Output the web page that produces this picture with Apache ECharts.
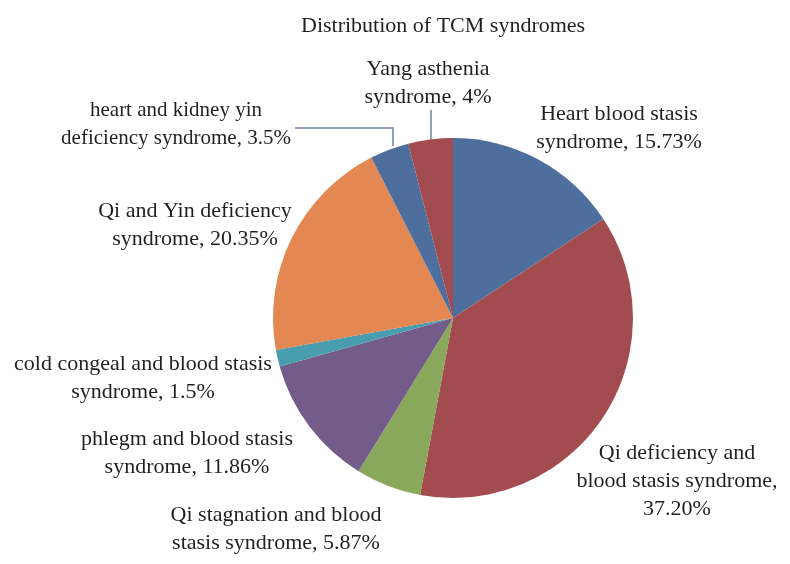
<!DOCTYPE html>
<html>
<head>
<meta charset="utf-8">
<script src="https://cdn.jsdelivr.net/npm/echarts@6/dist/echarts.min.js"></script>
<style>html,body{margin:0;padding:0;background:#fff}#c{width:790px;height:564px}</style>
</head>
<body>
<div id="c"></div>
<script>
var titleText = 'Distribution of TCM syndromes';
var categories = [
  'Heart blood stasis syndrome',
  'Qi deficiency and blood stasis syndrome',
  'Qi stagnation and blood stasis syndrome',
  'phlegm and blood stasis syndrome',
  'cold congeal and blood stasis syndrome',
  'Qi and Yin deficiency syndrome',
  'heart and kidney yin deficiency syndrome',
  'Yang asthenia syndrome'
];
var values = [15.73, 37.20, 5.87, 11.86, 1.5, 20.35, 3.5, 4];
var labelTexts = [
  'Heart blood stasis\nsyndrome, 15.73%',
  'Qi deficiency and\nblood stasis syndrome,\n37.20%',
  'Qi stagnation and blood\nstasis syndrome, 5.87%',
  'phlegm and blood stasis\nsyndrome, 11.86%',
  'cold congeal and blood stasis\nsyndrome, 1.5%',
  'Qi and Yin deficiency\nsyndrome, 20.35%',
  'heart and kidney yin\ndeficiency syndrome, 3.5%',
  'Yang asthenia\nsyndrome, 4%'
];
var colors = ['#4E6E9D', '#A24C4F', '#8AA85B', '#735B8A', '#4A9DAE', '#E38853', '#4E6E9D', '#A24C4F'];

// label placement (layout only)
var labelPos = [
  {x: 619, y: 128},
  {x: 677, y: 481},
  {x: 276, y: 529},
  {x: 187, y: 453},
  {x: 143, y: 378},
  {x: 195, y: 225},
  {x: 176, y: 124, fs: 21, line: [[295, 128], [393, 128], [393, 146]]},
  {x: 428, y: 83, line: [[431, 110], [431, 136], [431, 162]]}
];

var data = categories.map(function (n, i) {
  var lab = {formatter: labelTexts[i]};
  if (labelPos[i].fs) lab.fontSize = labelPos[i].fs;
  return {
    name: n,
    value: values[i],
    itemStyle: {color: colors[i]},
    label: lab,
    labelLine: {show: !!labelPos[i].line}
  };
});

var chart = echarts.init(document.getElementById('c'));
chart.setOption({
  animation: false,
  title: {
    text: titleText,
    left: 296,
    top: 10,
    textStyle: {fontFamily: 'Liberation Serif', fontSize: 22, fontWeight: 'normal', color: '#231F20'}
  },
  series: [{
    type: 'pie',
    center: [453, 318],
    radius: 180,
    startAngle: 90,
    clockwise: true,
    avoidLabelOverlap: false,
    itemStyle: {borderWidth: 0},
    label: {
      show: true,
      position: 'outside',
      fontFamily: 'Liberation Serif',
      fontSize: 22,
      lineHeight: 28,
      color: '#231F20',
      align: 'center'
    },
    labelLine: {lineStyle: {color: '#6F80A0', width: 1.5}, length: 10, length2: 10},
    labelLayout: function (p) {
      var lp = labelPos[p.dataIndex];
      var r = {x: lp.x, y: lp.y, align: 'center', verticalAlign: 'middle'};
      if (lp.line) r.labelLinePoints = lp.line;
      return r;
    },
    data: data
  }]
});
</script>
</body>
</html>
